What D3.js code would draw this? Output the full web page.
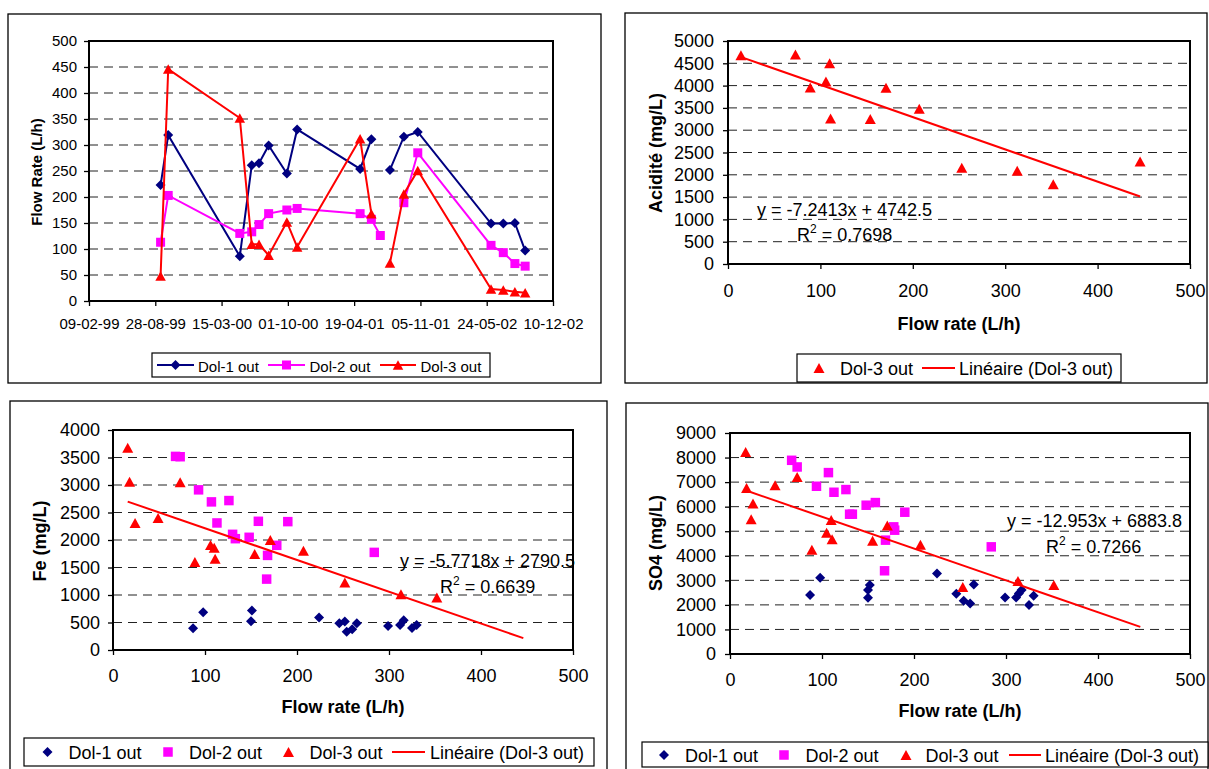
<!DOCTYPE html>
<html>
<head>
<meta charset="utf-8">
<style>
  body { margin: 0; background: #fff; }
  svg { display: block; }
</style>
</head>
<body>
<script src="https://d3js.org/d3.v7.min.js"></script>
<script>
// ---- flow rate over time (top left) ----
const DATES = ["1999-09-13","1999-10-06","2000-05-09","2000-06-14","2000-07-06","2000-08-04",
  "2000-09-28","2000-10-29","2001-05-07","2001-06-10","2001-07-07","2001-08-05",
  "2001-09-16","2001-10-28","2002-06-06","2002-07-13","2002-08-17","2002-09-17"];
const DOL1_FLOW = [223, 319, 86, 261, 265, 299, 245, 330, 254, 311, null, 252, 316, 325, 149, 149, 150, 97];
const DOL2_FLOW = [113, 203, 130, 133, 147, 168, 175, 178, 168, 157, 126, null, 189, 285, 107, 93, 72, 67];
const DOL3_FLOW = [48, 446, 352, 109, 109, 88, 152, 104, 312, 168, null, 73, 206, 251, 23, 21, 18, 16];
const DATE_TICKS = ["09-02-99","28-08-99","15-03-00","01-10-00","19-04-01","05-11-01","24-05-02","10-12-02"];
const FLOW_TICKS = [0,50,100,150,200,250,300,350,400,450,500];

// ---- acidité vs flow (top right), Dol-3 only ----
const ACID_FLOW = [14, 73, 89, 106, 110, 111, 154, 171, 207, 253, 313, 352, 446];
const ACID_VAL = [4680, 4700, 3960, 4090, 4500, 3260, 3250, 3950, 3480, 2160, 2090, 1790, 2300];
const ACID_TICKS = [0,500,1000,1500,2000,2500,3000,3500,4000,4500,5000];
const ACID_FIT = [-7.2413, 4742.5, 0.7698];   // slope, intercept, R2

// ---- Fe vs flow (bottom left) ----
const FE_D1_FLOW = [87, 98, 150, 151, 224, 246, 252, 254, 260, 265, 299, 312, 316, 325, 330];
const FE_D1 = [395, 687, 523, 717, 590, 486, 517, 334, 377, 486, 438, 456, 541, 401, 456];
const FE_D2_FLOW = [68, 73, 93, 107, 126, 113, 130, 133, 148, 158, 168, 167, 178, 190, 284];
const FE_D2 = [3520, 3514, 2912, 2693, 2717, 2310, 2103, 2024, 2049, 2340, 1720, 1289, 1903, 2334, 1775];
const FE_D3_FLOW = [16, 18, 24, 49, 73, 89, 106, 110, 111, 154, 171, 207, 252, 313, 352];
const FE_D3 = [3678, 3058, 2310, 2401, 3052, 1599, 1909, 1860, 1660, 1745, 2000, 1805, 1228, 1015, 954];
const FE_TICKS = [0,500,1000,1500,2000,2500,3000,3500,4000];
const FE_FIT = [-5.7718, 2790.5, 0.6639];

// ---- SO4 vs flow (bottom right) ----
const SO4_D1_FLOW = [87, 98, 150, 150, 152, 225, 246, 254, 261, 265, 299, 311, 314, 317, 325, 330];
const SO4_D1 = [2399, 3104, 2291, 2602, 2806, 3280, 2453, 2169, 2060, 2833, 2304, 2304, 2467, 2602, 1992, 2372];
const SO4_D2_FLOW = [67, 73, 94, 107, 113, 126, 130, 133, 148, 158, 169, 168, 178, 179, 190, 284];
const SO4_D2 = [7888, 7617, 6831, 7387, 6587, 6696, 5693, 5693, 6059, 6167, 4636, 3389, 5178, 5042, 5774, 4364];
const SO4_D3_FLOW = [17, 18, 25, 23, 49, 73, 89, 105, 110, 111, 155, 171, 207, 253, 313, 352];
const SO4_D3 = [8227, 6763, 6126, 5489, 6872, 7211, 4242, 4934, 5462, 4676, 4608, 5232, 4446, 2724, 2968, 2806];
const SO4_TICKS = [0,1000,2000,3000,4000,5000,6000,7000,8000,9000];
const SO4_FIT = [-12.953, 6883.8, 0.7266];

const X_TICKS = [0,100,200,300,400,500];
const FIT_RANGE = [16, 446];   // trend drawn over Dol-3 flow range

const FONT = "'Liberation Sans', Arial, Helvetica, sans-serif";
const C1 = '#000080', C2 = '#ff00ff', C3 = '#ff0000';
const fmt = d3.format('d');

const svg = d3.select('body').append('svg').attr('width', 1209).attr('height', 769)
  .attr('font-family', FONT);

// marker shapes
const diamond = s => `M0,${-s/2}L${s/2},0L0,${s/2}L${-s/2},0Z`;
const square = s => `M${-s/2},${-s/2}h${s}v${s}h${-s}Z`;
const triangle = (w, h) => `M0,${-h/2}L${w/2},${h/2}L${-w/2},${h/2}Z`;

function frame(x0, y0, x1, y1) {
  svg.append('rect').attr('x', x0).attr('y', y0).attr('width', x1 - x0).attr('height', y1 - y0)
    .attr('fill', 'none').attr('stroke', '#000').attr('stroke-width', 1.3);
}

// grid, border, axes
function plotArea(x, y, yTicks, xAxis, fs, padX, padY) {
  const [x0, x1] = x.range();
  const [yb, yt] = y.range();
  const g = svg.append('g');
  g.selectAll('line.grid')
    .data(yTicks.slice(1, -1))
    .join('line')
    .attr('x1', x0).attr('x2', x1)
    .attr('y1', d => y(d)).attr('y2', d => y(d))
    .attr('stroke', '#222').attr('stroke-width', 1).attr('stroke-dasharray', '9,6');

  const ya = g.append('g').attr('transform', `translate(${x0},0)`)
    .call(d3.axisLeft(y).tickValues(yTicks).tickFormat(fmt).tickSize(5).tickSizeOuter(0).tickPadding(padY));
  ya.select('.domain').remove();
  ya.selectAll('text').attr('font-size', fs).attr('font-family', FONT);
  ya.selectAll('line').attr('stroke-width', 1.3);

  const xa = g.append('g').attr('transform', `translate(0,${yb})`).call(xAxis.tickSize(5).tickSizeOuter(0).tickPadding(padX));
  xa.select('.domain').remove();
  xa.selectAll('text').attr('font-size', fs).attr('font-family', FONT);
  xa.selectAll('line').attr('stroke-width', 1.3);

  g.append('rect').attr('x', x0).attr('y', yt).attr('width', x1 - x0).attr('height', yb - yt)
    .attr('fill', 'none').attr('stroke', '#000').attr('stroke-width', 2);
  return g;
}

function yTitle(text, cx, cy, fs) {
  svg.append('text').attr('transform', `translate(${cx},${cy}) rotate(-90)`)
    .attr('text-anchor', 'middle').attr('dominant-baseline', 'central')
    .attr('font-weight', 'bold').attr('font-size', fs).text(text);
}

function xTitle(text, cx, by) {
  svg.append('text').attr('x', cx).attr('y', by).attr('text-anchor', 'middle')
    .attr('font-weight', 'bold').attr('font-size', 18).text(text);
}

function markers(xs, ys, x, y, path, color) {
  svg.append('g').selectAll('path')
    .data(xs.map((v, i) => [v, ys[i]]).filter(d => d[1] != null))
    .join('path')
    .attr('transform', d => `translate(${x(d[0])},${y(d[1])})`)
    .attr('d', path).attr('fill', color);
}

function trend(fit, x, y) {
  svg.append('line')
    .attr('x1', x(FIT_RANGE[0])).attr('y1', y(fit[0] * FIT_RANGE[0] + fit[1]))
    .attr('x2', x(FIT_RANGE[1])).attr('y2', y(fit[0] * FIT_RANGE[1] + fit[1]))
    .attr('stroke', C3).attr('stroke-width', 2);
}

function fitLabel(fit, ex, ey, rx, ry) {
  svg.append('text').attr('x', ex).attr('y', ey).attr('font-size', 18)
    .text(`y = ${fit[0]}x + ${fit[1]}`);
  const t = svg.append('text').attr('x', rx).attr('y', ry).attr('font-size', 18);
  t.append('tspan').text('R');
  t.append('tspan').attr('font-size', 12).attr('dy', -8).text('2');
  t.append('tspan').attr('dy', 8).text(` = ${fit[2]}`);
}

function legendBox(x0, y0, x1, y1) {
  svg.append('rect').attr('x', x0).attr('y', y0).attr('width', x1 - x0).attr('height', y1 - y0)
    .attr('fill', '#fff').attr('stroke', '#000').attr('stroke-width', 1.2);
}
function legendText(x, y, text, fs) {
  svg.append('text').attr('x', x).attr('y', y).attr('dominant-baseline', 'central')
    .attr('font-size', fs).text(text);
}
function legendMark(x, y, path, color) {
  svg.append('path').attr('transform', `translate(${x},${y})`).attr('d', path).attr('fill', color);
}
function legendLine(x0, x1, y, color) {
  svg.append('line').attr('x1', x0).attr('x2', x1).attr('y1', y).attr('y2', y)
    .attr('stroke', color).attr('stroke-width', 2);
}

// ================= panel 1 : flow rate over time =================
{
  frame(8, 14, 601, 383);
  const parseD = d3.utcParse('%Y-%m-%d');
  const parseT = d3.utcParse('%d-%m-%y');
  const tickDates = DATE_TICKS.map(parseT);
  const x = d3.scaleUtc().domain([tickDates[0], tickDates[tickDates.length - 1]]).range([89, 553]);
  const y = d3.scaleLinear().domain([0, 500]).range([301, 41]);
  const xAxis = d3.axisBottom(x).tickValues(tickDates).tickFormat((d, i) => DATE_TICKS[i]);
  plotArea(x, y, FLOW_TICKS, xAxis, 15, 12, 7);
  yTitle('Flow Rate (L/h)', 36, 172, 15);

  const dates = DATES.map(parseD);
  const series = [
    [DOL1_FLOW, C1, diamond(10)],
    [DOL2_FLOW, C2, square(9)],
    [DOL3_FLOW, C3, triangle(10.5, 9.5)]
  ];
  const line = d3.line().defined(d => d[1] != null).x(d => x(d[0])).y(d => y(d[1]));
  series.forEach(([vals, color, shape]) => {
    const pts = dates.map((d, i) => [d, vals[i]]);
    svg.append('path').datum(pts).attr('d', line)
      .attr('fill', 'none').attr('stroke', color).attr('stroke-width', 2);
    markers(dates, vals, x, y, shape, color);
  });

  legendBox(152, 353, 490, 377);
  legendLine(157, 194, 365, C1); legendMark(175.5, 365, diamond(10), C1); legendText(198, 366, 'Dol-1 out', 15);
  legendLine(268, 305, 365, C2); legendMark(286.5, 365, square(9), C2); legendText(309.5, 366, 'Dol-2 out', 15);
  legendLine(380, 416, 365, C3); legendMark(398, 365, triangle(10.5, 9.5), C3); legendText(420.5, 366, 'Dol-3 out', 15);
}

// ================= panel 2 : acidité =================
{
  frame(625, 13, 1207, 383);
  const x = d3.scaleLinear().domain([0, 500]).range([728, 1190]);
  const y = d3.scaleLinear().domain([0, 5000]).range([264, 41]);
  plotArea(x, y, ACID_TICKS, d3.axisBottom(x).tickValues(X_TICKS).tickFormat(fmt), 18, 15, 9);
  yTitle('Acidité (mg/L)', 656, 153, 18);
  xTitle('Flow rate (L/h)', 959, 330);
  markers(ACID_FLOW, ACID_VAL, x, y, triangle(11, 10), C3);
  trend(ACID_FIT, x, y);
  fitLabel(ACID_FIT, 757, 215.5, 797, 240.5);

  legendBox(797, 354, 1121, 382);
  legendMark(819, 368, triangle(11, 10), C3); legendText(840, 369, 'Dol-3 out', 18);
  legendLine(922, 955, 368, C3); legendText(959, 369, 'Linéaire (Dol-3 out)', 18);
}

// ================= panel 3 : Fe =================
{
  frame(10, 401, 607, 772);
  const x = d3.scaleLinear().domain([0, 500]).range([113, 573]);
  const y = d3.scaleLinear().domain([0, 4000]).range([650, 430]);
  plotArea(x, y, FE_TICKS, d3.axisBottom(x).tickValues(X_TICKS).tickFormat(fmt), 18, 14, 8);
  yTitle('Fe (mg/L)', 40, 541, 18);
  xTitle('Flow rate (L/h)', 343, 713);
  markers(FE_D1_FLOW, FE_D1, x, y, diamond(10), C1);
  markers(FE_D2_FLOW, FE_D2, x, y, square(9.5), C2);
  markers(FE_D3_FLOW, FE_D3, x, y, triangle(11, 10), C3);
  trend(FE_FIT, x, y);
  fitLabel(FE_FIT, 400, 567, 440, 593);

  legendBox(24, 738, 594, 766);
  legendMark(47.5, 752, diamond(10), C1); legendText(68.5, 753, 'Dol-1 out', 18);
  legendMark(168, 752, square(9.5), C2); legendText(189, 753, 'Dol-2 out', 18);
  legendMark(288.5, 752, triangle(11, 10), C3); legendText(309.5, 753, 'Dol-3 out', 18);
  legendLine(392, 425, 752, C3); legendText(430, 753, 'Linéaire (Dol-3 out)', 18);
}

// ================= panel 4 : SO4 =================
{
  frame(626, 403, 1208, 772);
  const x = d3.scaleLinear().domain([0, 500]).range([730, 1190]);
  const y = d3.scaleLinear().domain([0, 9000]).range([654, 433]);
  plotArea(x, y, SO4_TICKS, d3.axisBottom(x).tickValues(X_TICKS).tickFormat(fmt), 18, 14, 9);
  yTitle('SO4 (mg/L)', 656, 543, 18);
  xTitle('Flow rate (L/h)', 960, 716.5);
  markers(SO4_D1_FLOW, SO4_D1, x, y, diamond(10), C1);
  markers(SO4_D2_FLOW, SO4_D2, x, y, square(9.5), C2);
  markers(SO4_D3_FLOW, SO4_D3, x, y, triangle(11, 10), C3);
  trend(SO4_FIT, x, y);
  fitLabel(SO4_FIT, 1007, 527, 1046, 552.5);

  legendBox(642, 742, 1208, 767);
  legendMark(664, 755, diamond(10), C1); legendText(685, 756, 'Dol-1 out', 18);
  legendMark(784, 755, square(9.5), C2); legendText(805.5, 756, 'Dol-2 out', 18);
  legendMark(906, 755, triangle(11, 10), C3); legendText(925.5, 756, 'Dol-3 out', 18);
  legendLine(1009, 1041, 755, C3); legendText(1045, 756, 'Linéaire (Dol-3 out)', 18);
}
</script>
</body>
</html>
